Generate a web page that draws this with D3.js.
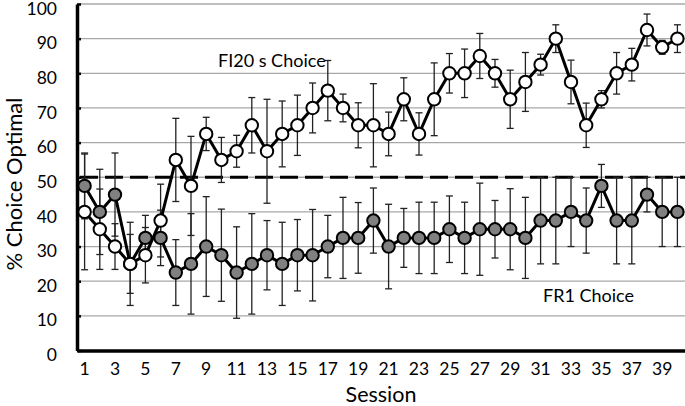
<!DOCTYPE html>
<html>
<head>
<meta charset="utf-8">
<script src="https://cdn.jsdelivr.net/npm/d3@7"></script>
<style>
  body { margin: 0; background: #fff; }
  svg text { font-family: Lato, "Open Sans", sans-serif; fill: #000; }
</style>
</head>
<body>
<svg id="chart" width="685" height="406"></svg>
<script>
// sessions and y ticks
const sessions = d3.range(1, 41);
const yTicks = [0, 10, 20, 30, 40, 50, 60, 70, 80, 90, 100];
const xTickLabels = sessions.filter(d => d % 2 === 1);
const chanceLevel = 50;

// FI20 s choice (open circles)
const fiMean = [40, 35, 30, 25, 27.5, 37.5, 55, 47.5, 62.5, 55,
                57.5, 65, 57.5, 62.5, 65, 70, 75, 70, 65, 65,
                62.5, 72.5, 62.5, 72.5, 80, 80, 85, 80, 72.5, 77.5,
                82.5, 90, 77.5, 65, 72.5, 80, 82.5, 92.5, 87.5, 90];
const fiErr = [16.7, 11.6, 6.6, 8.5, 8, 10.5, 12, 14.3, 4.8, 6.5,
               4.6, 8, 15, 9.5, 8.7, 7.2, 8.7, 4, 6.5, 12,
               6.3, 6.2, 6.1, 10.5, 5.7, 7, 6.5, 4, 8.4, 8.5,
               3, 4, 6.3, 6.4, 2.5, 6, 4.7, 4.6, 2, 4];

// FR1 choice (grey circles)
const frMean = [47.5, 40, 45, 25, 32.5, 32.5, 22.5, 25, 30, 27.5,
                22.5, 25, 27.5, 25, 27.5, 27.5, 30, 32.5, 32.5, 37.5,
                30, 32.5, 32.5, 32.5, 35, 32.5, 35, 35, 35, 32.5,
                37.5, 37.5, 40, 37.5, 47.5, 37.5, 37.5, 45, 40, 40];
const frErr = [9.5, 12.3, 12, 12, 6.5, 8, 9.5, 14.5, 14.4, 13.3,
               13.2, 14.5, 10, 12, 10.3, 13.2, 9, 11.7, 10.2, 9.4,
               12.2, 8.5, 10.3, 10.3, 9.6, 10.3, 13.3, 8.3, 11.7, 11.7,
               12.5, 12.5, 10, 9.4, 6.2, 12.5, 12.5, 5, 10, 10];

const svg = d3.select("#chart");
const plot = { left: 77, right: 685, top: 4, bottom: 350.5 };

const x = d3.scaleBand().domain(sessions).range([plot.left, plot.right]);
const y = d3.scaleLinear().domain([0, 100]).range([plot.bottom, plot.top]);
const cx = d => x(d) + x.bandwidth() / 2;

// gridlines
svg.append("g")
  .selectAll("line")
  .data(yTicks.filter(d => d > 0))
  .join("line")
  .attr("x1", plot.left).attr("x2", plot.right)
  .attr("y1", d => y(d)).attr("y2", d => y(d))
  .attr("stroke", "#a8a8a8")
  .attr("stroke-width", 1.3);

// chance line
svg.append("line")
  .attr("x1", plot.left + 3).attr("x2", plot.right)
  .attr("y1", y(chanceLevel)).attr("y2", y(chanceLevel))
  .attr("stroke", "#000")
  .attr("stroke-width", 3)
  .attr("stroke-dasharray", "18,7");

// axes
const yAxis = svg.append("g")
  .attr("transform", `translate(${plot.left},0)`)
  .call(d3.axisLeft(y).tickValues(yTicks).tickSizeInner(-4).tickSizeOuter(0).tickPadding(20));
yAxis.select(".domain").attr("stroke", "#000").attr("stroke-width", 3.5);
yAxis.selectAll(".tick line").attr("stroke", "#000").attr("stroke-width", 2.5);
yAxis.selectAll("text").attr("font-size", 17.5).attr("y", 4.5);

const xAxis = svg.append("g")
  .attr("transform", `translate(0,${plot.bottom})`)
  .call(d3.axisBottom(x).tickValues(xTickLabels).tickSize(0).tickPadding(12));
xAxis.select(".domain").attr("stroke", "#000").attr("stroke-width", 3.5);
xAxis.selectAll("text").attr("font-size", 17.5);

// axis titles
svg.append("text")
  .attr("transform", "translate(22,184) rotate(-90)")
  .attr("text-anchor", "middle")
  .attr("font-size", 22)
  .text("% Choice Optimal");

svg.append("text")
  .attr("x", (plot.left + plot.right) / 2)
  .attr("y", 402)
  .attr("text-anchor", "middle")
  .attr("font-size", 21.5)
  .text("Session");

// series
const series = [
  { mean: frMean, err: frErr, fill: "#808080" },
  { mean: fiMean, err: fiErr, fill: "#ffffff" }
];

series.forEach(s => {
  const pts = sessions.map((d, i) => ({ s: d, v: s.mean[i], e: s.err[i] }));
  const eb = svg.append("g").attr("stroke", "#222").attr("stroke-width", 1.3);
  eb.selectAll(".bar").data(pts).join("line")
    .attr("x1", d => cx(d.s)).attr("x2", d => cx(d.s))
    .attr("y1", d => y(d.v + d.e)).attr("y2", d => y(d.v - d.e));
  eb.selectAll(".capTop").data(pts).join("line")
    .attr("x1", d => cx(d.s) - 3.5).attr("x2", d => cx(d.s) + 3.5)
    .attr("y1", d => y(d.v + d.e)).attr("y2", d => y(d.v + d.e));
  eb.selectAll(".capBot").data(pts).join("line")
    .attr("x1", d => cx(d.s) - 3.5).attr("x2", d => cx(d.s) + 3.5)
    .attr("y1", d => y(d.v - d.e)).attr("y2", d => y(d.v - d.e));
  s.pts = pts;
});

series.forEach(s => {
  svg.append("path")
    .datum(s.pts)
    .attr("fill", "none")
    .attr("stroke", "#000")
    .attr("stroke-width", 3)
    .attr("stroke-linejoin", "round")
    .attr("d", d3.line().x(d => cx(d.s)).y(d => y(d.v)));
});

series.forEach(s => {
  svg.append("g").selectAll("circle")
    .data(s.pts)
    .join("circle")
    .attr("cx", d => cx(d.s))
    .attr("cy", d => y(d.v))
    .attr("r", 6.2)
    .attr("fill", s.fill)
    .attr("stroke", "#000")
    .attr("stroke-width", 2);
});

// series labels
svg.append("text").attr("x", 218).attr("y", 67).attr("font-size", 18).text("FI20 s Choice");
svg.append("text").attr("x", 543).attr("y", 302).attr("font-size", 18).text("FR1 Choice");
</script>
</body>
</html>
